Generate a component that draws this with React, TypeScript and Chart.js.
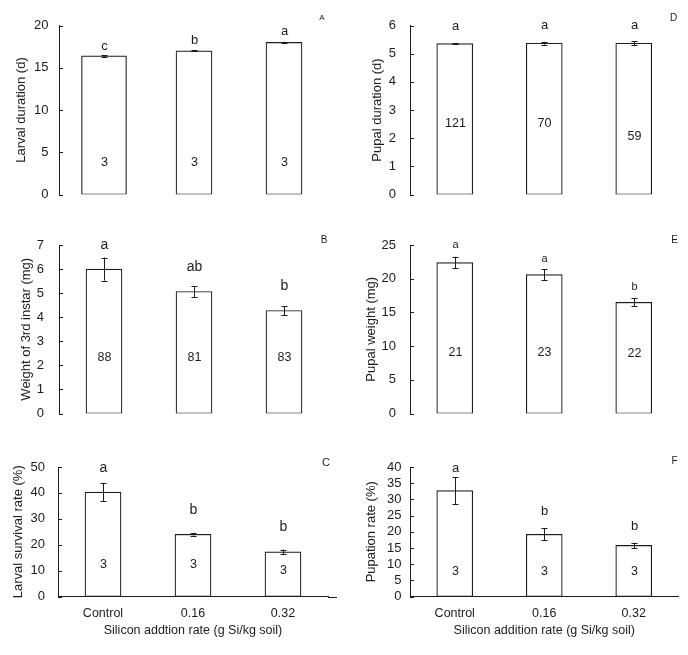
import React, { useEffect, useRef } from "react";
import { Chart, registerables } from "chart.js";

Chart.register(...registerables);

// ---------- data ----------
const categories = ["Control", "0.16", "0.32"];

const larvalDuration = [16.4, 17.0, 18.0];
const larvalDurationErr = [0.1, 0.06, 0.08];
const larvalDurationLetters = ["c", "b", "a"];
const larvalDurationN = ["3", "3", "3"];

const instarWeight = [6.0, 5.07, 4.28];
const instarWeightErr = [0.48, 0.23, 0.19];
const instarWeightLetters = ["a", "ab", "b"];
const instarWeightN = ["88", "81", "83"];

const larvalSurvival = [40.3, 24.0, 17.2];
const larvalSurvivalErr = [3.6, 0.5, 0.9];
const larvalSurvivalLetters = ["a", "b", "b"];
const larvalSurvivalN = ["3", "3", "3"];

const pupalDuration = [5.36, 5.37, 5.37];
const pupalDurationErr = [0.02, 0.05, 0.07];
const pupalDurationLetters = ["a", "a", "a"];
const pupalDurationN = ["121", "70", "59"];

const pupalWeight = [22.4, 20.6, 16.5];
const pupalWeightErr = [0.85, 0.8, 0.6];
const pupalWeightLetters = ["a", "a", "b"];
const pupalWeightN = ["21", "23", "22"];

const pupationRate = [32.7, 19.2, 15.8];
const pupationRateErr = [4.2, 1.9, 0.8];
const pupationRateLetters = ["a", "b", "b"];
const pupationRateN = ["3", "3", "3"];

// ---------- styles ----------
const INK = "#1c1c1c";
const FONT = "'Liberation Sans', Arial, Helvetica, sans-serif";

type Panel = {
  id: string;
  values: number[];
  errors: number[];
  letters: string[];
  counts: string[];
  countAt: number[];
  letterGap: number[];
  letterSize: number;
  yTitle: string;
  yMax: number;
  yStep: number;
  xTitle?: string;
  left: number;
  top: number;
  width: number;
  height: number;
  axisWidth: number;
  padTop: number;
  padBottom: number;
  padRight: number;
  xAxisHeight?: number;
  tickPad: number;
  titleOffset: number;
  label: string;
  labelSize: number;
  labelDx: number;
  labelDy: number;
  axisExtend?: number;
  wideFirst?: boolean;
};

const panels: Panel[] = [
  {
    id: "A", values: larvalDuration, errors: larvalDurationErr, letters: larvalDurationLetters,
    counts: larvalDurationN, countAt: [3.8, 3.8, 3.8], letterGap: [9, 10, 10], letterSize: 13,
    yTitle: "Larval duration (d)", yMax: 20, yStep: 5,
    left: 0, top: 0, width: 340, height: 210, axisWidth: 59, padTop: 25.5, padBottom: 15.5, padRight: 11,
    tickPad: 10.5, titleOffset: 13.7, label: "A", labelSize: 8, labelDx: -7, labelDy: -8, wideFirst: true,
  },
  {
    id: "B", values: instarWeight, errors: instarWeightErr, letters: instarWeightLetters,
    counts: instarWeightN, countAt: [2.33, 2.33, 2.33], letterGap: [12.7, 19, 19.7], letterSize: 14,
    yTitle: "Weight of 3rd instar (mg)", yMax: 7, yStep: 1,
    left: 0, top: 210, width: 340, height: 210, axisWidth: 59, padTop: 35, padBottom: 6.5, padRight: 11,
    tickPad: 15, titleOffset: 19, label: "B", labelSize: 10, labelDx: -5, labelDy: -5,
  },
  {
    id: "C", values: larvalSurvival, errors: larvalSurvivalErr, letters: larvalSurvivalLetters,
    counts: larvalSurvivalN, countAt: [12.5, 12.5, 9.9], letterGap: [15, 23.4, 22.2], letterSize: 14,
    yTitle: "Larval survival rate (%)", yMax: 50, yStep: 10, xTitle: "Silicon addtion rate (g Si/kg soil)",
    left: 0, top: 420, width: 340, height: 235, axisWidth: 58, padTop: 47, padBottom: 0, padRight: 12,
    xAxisHeight: 58.5,
    tickPad: 13, titleOffset: 11, label: "C", labelSize: 11, labelDx: -2, labelDy: -4.5, axisExtend: 9,
  },
  {
    id: "D", values: pupalDuration, errors: pupalDurationErr, letters: pupalDurationLetters,
    counts: pupalDurationN, countAt: [2.53, 2.53, 2.07], letterGap: [16.3, 16.3, 16.3], letterSize: 13,
    yTitle: "Pupal duration (d)", yMax: 6, yStep: 1,
    left: 340, top: 0, width: 348, height: 210, axisWidth: 70, padTop: 25.5, padBottom: 15.5, padRight: 9.5,
    tickPad: 14, titleOffset: 30, label: "D", labelSize: 10, labelDx: -5, labelDy: -7,
  },
  {
    id: "E", values: pupalWeight, errors: pupalWeightErr, letters: pupalWeightLetters,
    counts: pupalWeightN, countAt: [9.07, 9.07, 8.83], letterGap: [11.7, 10, 11], letterSize: 11,
    yTitle: "Pupal weight (mg)", yMax: 25, yStep: 5,
    left: 340, top: 210, width: 348, height: 210, axisWidth: 70, padTop: 35, padBottom: 6.5, padRight: 9.5,
    tickPad: 14, titleOffset: 24, label: "E", labelSize: 10, labelDx: -4, labelDy: -5,
  },
  {
    id: "F", values: pupationRate, errors: pupationRateErr, letters: pupationRateLetters,
    counts: pupationRateN, countAt: [7.7, 7.7, 7.7], letterGap: [9, 16.4, 16.7], letterSize: 13,
    yTitle: "Pupation rate (%)", yMax: 40, yStep: 5, xTitle: "Silicon addition rate (g Si/kg soil)",
    left: 340, top: 420, width: 348, height: 235, axisWidth: 70, padTop: 47, padBottom: 0, padRight: 9.5,
    xAxisHeight: 58.5,
    tickPad: 8.5, titleOffset: 24, label: "F", labelSize: 10, labelDx: -4, labelDy: -5.3,
  },
];

function annotationPlugin(p: Panel) {
  return {
    id: "annot" + p.id,
    afterDatasetsDraw(chart: any) {
      const { ctx, chartArea, scales } = chart;
      const xs = scales.x;
      const ys = scales.y;
      ctx.save();
      ctx.strokeStyle = INK;
      ctx.fillStyle = INK;
      ctx.lineWidth = 1;
      // inward tick marks on y axis
      ys.ticks.forEach((t: any) => {
        const y = Math.round(ys.getPixelForValue(t.value)) + 0.5;
        ctx.beginPath();
        ctx.moveTo(chartArea.left, y);
        ctx.lineTo(chartArea.left + 4, y);
        ctx.stroke();
      });
      if (p.axisExtend) {
        const y = Math.round(chartArea.bottom) + 0.5;
        ctx.beginPath();
        ctx.moveTo(chartArea.right, y);
        ctx.lineTo(chartArea.right + p.axisExtend, y);
        ctx.stroke();
      }
      ctx.textAlign = "center";
      ctx.textBaseline = "middle";
      p.values.forEach((v, i) => {
        const x = Math.round(xs.getPixelForValue(i)) + 0.5;
        const e = p.errors[i];
        const yt = ys.getPixelForValue(v + e);
        const yb = ys.getPixelForValue(v - e);
        ctx.beginPath();
        ctx.moveTo(x, yt);
        ctx.lineTo(x, yb);
        ctx.moveTo(x - 3, Math.round(yt) + 0.5);
        ctx.lineTo(x + 3, Math.round(yt) + 0.5);
        ctx.moveTo(x - 3, Math.round(yb) + 0.5);
        ctx.lineTo(x + 3, Math.round(yb) + 0.5);
        ctx.stroke();
        ctx.font = `${p.letterSize}px ${FONT}`;
        ctx.fillText(p.letters[i], x, yt - p.letterGap[i]);
        ctx.font = `12.5px ${FONT}`;
        ctx.fillText(p.counts[i], x, ys.getPixelForValue(p.countAt[i]));
      });
      ctx.font = `${p.labelSize}px ${FONT}`;
      ctx.fillText(p.label, chartArea.right + p.labelDx, chartArea.top + p.labelDy);
      ctx.restore();
    },
  };
}

function buildDatasets(p: Panel) {
  const common = {
    backgroundColor: "#ffffff",
    borderColor: INK,
    borderWidth: 1.2,
    borderSkipped: false as const,
    grouped: false,
  };
  if (p.wideFirst) {
    return [
      { ...common, data: p.values.map((v, i) => (i === 0 ? v : null)), barThickness: 45 },
      { ...common, data: p.values.map((v, i) => (i === 0 ? null : v)), barThickness: 36 },
    ];
  }
  return [{ ...common, data: p.values, barThickness: 36 }];
}

function PanelChart({ p }: { p: Panel }) {
  const ref = useRef<HTMLCanvasElement | null>(null);
  useEffect(() => {
    if (!ref.current) return;
    const showX = !!p.xTitle;
    const chart = new Chart(ref.current, {
      type: "bar",
      data: { labels: categories, datasets: buildDatasets(p) as any },
      options: {
        animation: false,
        responsive: false,
        devicePixelRatio: 1,
        layout: { padding: { left: 0, right: p.padRight, top: p.padTop, bottom: p.padBottom } },
        plugins: { legend: { display: false }, tooltip: { enabled: false }, title: { display: false } },
        scales: {
          x: {
            type: "category",
            display: showX,
            offset: true,
            grid: { display: false, drawTicks: false },
            border: { display: true, color: INK, width: 1 },
            ticks: { color: INK, font: { family: FONT, size: 12.5 }, padding: 10, maxRotation: 0 },
            title: {
              display: showX,
              text: p.xTitle || "",
              color: INK,
              font: { family: FONT, size: 12.5 },
              padding: { top: 0, bottom: 16.5 },
            },
            afterFit: (s: any) => {
              if (showX && p.xAxisHeight) s.height = p.xAxisHeight;
              s.paddingLeft = 0;
              s.paddingRight = 0;
            },
          },
          y: {
            min: 0,
            max: p.yMax,
            grid: { display: false, drawTicks: false },
            border: { display: true, color: INK, width: 1 },
            ticks: {
              stepSize: p.yStep,
              color: INK,
              font: { family: FONT, size: 13, lineHeight: 1 },
              padding: p.tickPad,
            },
            title: {
              display: true,
              text: p.yTitle,
              color: INK,
              font: { family: FONT, size: 13 },
              padding: { top: p.titleOffset, bottom: 0 },
            },
            afterFit: (s: any) => {
              s.width = p.axisWidth;
              s.paddingTop = 0;
              s.paddingBottom = 0;
            },
          },
        },
      },
      plugins: [annotationPlugin(p)],
    });
    return () => chart.destroy();
  }, [p]);
  return (
    <canvas
      ref={ref}
      width={p.width}
      height={p.height}
      style={{ position: "absolute", left: p.left, top: p.top, width: p.width, height: p.height }}
    />
  );
}

export default function App() {
  return (
    <div
      style={{
        position: "absolute",
        left: 0,
        top: 0,
        width: 688,
        height: 655,
        background: "#ffffff",
        overflow: "hidden",
      }}
    >
      {panels.map((p) => (
        <PanelChart key={p.id} p={p} />
      ))}
    </div>
  );
}
